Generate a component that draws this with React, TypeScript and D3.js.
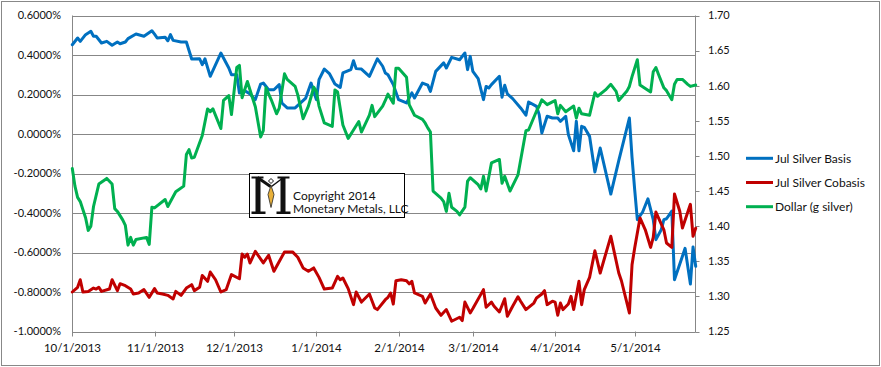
import React from 'react'
import * as d3 from 'd3'

// basis / cobasis (left axis, %) and dollar in grams of silver (right axis)
const leftTicks = [0.6, 0.4, 0.2, 0, -0.2, -0.4, -0.6, -0.8, -1.0]
const rightTicks = [1.7, 1.65, 1.6, 1.55, 1.5, 1.45, 1.4, 1.35, 1.3, 1.25]
const monthTicks = ['2013-10-01', '2013-11-01', '2013-12-01', '2014-01-01', '2014-02-01', '2014-03-01', '2014-04-01', '2014-05-01']
const dateRange = ['2013-10-01', '2014-05-24']
const seriesNames = ['Jul Silver Basis', 'Jul Silver Cobasis', 'Dollar (g silver)']
const seriesColors = ['#0070C0', '#C00000', '#00B050']

const basis: [string, number][] = [
  ['2013-10-01', 0.452], ['2013-10-03', 0.486], ['2013-10-04', 0.469], ['2013-10-06', 0.503], ['2013-10-08', 0.52],
  ['2013-10-09', 0.495], ['2013-10-10', 0.495], ['2013-10-12', 0.461], ['2013-10-14', 0.469], ['2013-10-16', 0.449],
  ['2013-10-18', 0.466], ['2013-10-19', 0.457], ['2013-10-21', 0.466], ['2013-10-22', 0.483], ['2013-10-25', 0.506],
  ['2013-10-28', 0.495], ['2013-10-31', 0.523], ['2013-11-01', 0.506], ['2013-11-02', 0.486], ['2013-11-05', 0.49],
  ['2013-11-06', 0.472], ['2013-11-07', 0.503], ['2013-11-08', 0.474], ['2013-11-11', 0.466], ['2013-11-13', 0.466],
  ['2013-11-15', 0.38], ['2013-11-18', 0.381], ['2013-11-19', 0.351], ['2013-11-20', 0.381], ['2013-11-22', 0.292],
  ['2013-11-26', 0.41], ['2013-11-27', 0.385], ['2013-11-29', 0.334], ['2013-11-30', 0.3], ['2013-12-02', 0.3],
  ['2013-12-03', 0.208], ['2013-12-05', 0.219], ['2013-12-07', 0.203], ['2013-12-09', 0.174], ['2013-12-11', 0.253],
  ['2013-12-12', 0.258], ['2013-12-14', 0.224], ['2013-12-16', 0.224], ['2013-12-18', 0.25], ['2013-12-19', 0.157],
  ['2013-12-21', 0.132], ['2013-12-24', 0.132], ['2013-12-28', 0.182], ['2013-12-30', 0.258], ['2014-01-01', 0.174],
  ['2014-01-02', 0.275], ['2014-01-04', 0.329], ['2014-01-06', 0.304], ['2014-01-08', 0.253], ['2014-01-10', 0.236],
  ['2014-01-11', 0.309], ['2014-01-14', 0.326], ['2014-01-15', 0.371], ['2014-01-16', 0.331], ['2014-01-18', 0.329],
  ['2014-01-21', 0.292], ['2014-01-24', 0.381], ['2014-01-26', 0.343], ['2014-01-27', 0.309], ['2014-01-28', 0.3],
  ['2014-01-30', 0.25], ['2014-02-01', 0.174], ['2014-02-04', 0.157], ['2014-02-06', 0.208], ['2014-02-07', 0.182],
  ['2014-02-10', 0.258], ['2014-02-12', 0.247], ['2014-02-13', 0.216], ['2014-02-15', 0.317], ['2014-02-18', 0.36],
  ['2014-02-19', 0.334], ['2014-02-21', 0.388], ['2014-02-24', 0.376], ['2014-02-26', 0.41], ['2014-02-27', 0.326],
  ['2014-02-28', 0.393], ['2014-03-01', 0.317], ['2014-03-03', 0.28], ['2014-03-05', 0.174], ['2014-03-06', 0.241],
  ['2014-03-07', 0.233], ['2014-03-08', 0.25], ['2014-03-11', 0.292], ['2014-03-12', 0.186], ['2014-03-13', 0.247],
  ['2014-03-14', 0.203], ['2014-03-16', 0.179], ['2014-03-19', 0.132], ['2014-03-21', 0.095], ['2014-03-22', 0.162],
  ['2014-03-25', 0.14], ['2014-03-26', 0.098], ['2014-03-27', 0.005], ['2014-03-29', 0.09], ['2014-03-31', 0.081],
  ['2014-04-02', 0.081], ['2014-04-03', 0.064], ['2014-04-05', 0.09], ['2014-04-06', -0.003], ['2014-04-08', -0.085],
  ['2014-04-09', 0.064], ['2014-04-10', -0.085], ['2014-04-11', 0.039], ['2014-04-12', 0.034], ['2014-04-14', -0.012],
  ['2014-04-16', -0.192], ['2014-04-18', -0.071], ['2014-04-22', -0.304], ['2014-04-25', -0.135], ['2014-04-29', 0.081],
  ['2014-04-30', -0.118], ['2014-05-01', -0.282], ['2014-05-02', -0.434], ['2014-05-04', -0.395], ['2014-05-06', -0.328],
  ['2014-05-08', -0.434], ['2014-05-09', -0.535], ['2014-05-11', -0.485], ['2014-05-12', -0.434], ['2014-05-13', -0.429],
  ['2014-05-15', -0.39], ['2014-05-16', -0.738], ['2014-05-20', -0.579], ['2014-05-22', -0.76], ['2014-05-23', -0.572],
  ['2014-05-24', -0.67],
]

const cobasis: [string, number][] = [
  ['2013-10-01', -0.8], ['2013-10-03', -0.776], ['2013-10-04', -0.738], ['2013-10-05', -0.8], ['2013-10-07', -0.797],
  ['2013-10-09', -0.78], ['2013-10-10', -0.785], ['2013-10-11', -0.776], ['2013-10-12', -0.797], ['2013-10-15', -0.785],
  ['2013-10-16', -0.738], ['2013-10-18', -0.793], ['2013-10-19', -0.758], ['2013-10-21', -0.768], ['2013-10-23', -0.785],
  ['2013-10-24', -0.81], ['2013-10-26', -0.805], ['2013-10-28', -0.788], ['2013-10-30', -0.827], ['2013-11-01', -0.783],
  ['2013-11-02', -0.805], ['2013-11-04', -0.81], ['2013-11-06', -0.817], ['2013-11-08', -0.835], ['2013-11-09', -0.797],
  ['2013-11-11', -0.817], ['2013-11-13', -0.78], ['2013-11-15', -0.763], ['2013-11-16', -0.793], ['2013-11-18', -0.776],
  ['2013-11-19', -0.716], ['2013-11-21', -0.746], ['2013-11-22', -0.699], ['2013-11-24', -0.738], ['2013-11-26', -0.8],
  ['2013-11-28', -0.788], ['2013-11-30', -0.712], ['2013-12-03', -0.733], ['2013-12-04', -0.608], ['2013-12-05', -0.624],
  ['2013-12-06', -0.608], ['2013-12-07', -0.653], ['2013-12-09', -0.594], ['2013-12-12', -0.653], ['2013-12-14', -0.614],
  ['2013-12-16', -0.695], ['2013-12-20', -0.597], ['2013-12-23', -0.597], ['2013-12-25', -0.624], ['2013-12-27', -0.678],
  ['2013-12-29', -0.695], ['2013-12-31', -0.678], ['2014-01-02', -0.726], ['2014-01-04', -0.785], ['2014-01-07', -0.78],
  ['2014-01-09', -0.721], ['2014-01-10', -0.738], ['2014-01-11', -0.729], ['2014-01-13', -0.783], ['2014-01-15', -0.864],
  ['2014-01-16', -0.8], ['2014-01-18', -0.851], ['2014-01-21', -0.81], ['2014-01-23', -0.881], ['2014-01-24', -0.889],
  ['2014-01-27', -0.839], ['2014-01-28', -0.827], ['2014-01-29', -0.805], ['2014-01-30', -0.861], ['2014-01-31', -0.743],
  ['2014-02-02', -0.738], ['2014-02-04', -0.743], ['2014-02-05', -0.759], ['2014-02-06', -0.746], ['2014-02-07', -0.805],
  ['2014-02-10', -0.822], ['2014-02-11', -0.856], ['2014-02-13', -0.81], ['2014-02-15', -0.881], ['2014-02-17', -0.918],
  ['2014-02-19', -0.889], ['2014-02-21', -0.948], ['2014-02-24', -0.928], ['2014-02-25', -0.945], ['2014-02-26', -0.851],
  ['2014-02-28', -0.906], ['2014-03-01', -0.884], ['2014-03-05', -0.788], ['2014-03-06', -0.877], ['2014-03-08', -0.851],
  ['2014-03-09', -0.872], ['2014-03-11', -0.901], ['2014-03-13', -0.834], ['2014-03-14', -0.923], ['2014-03-16', -0.872],
  ['2014-03-18', -0.824], ['2014-03-19', -0.847], ['2014-03-21', -0.889], ['2014-03-24', -0.856], ['2014-03-25', -0.83],
  ['2014-03-27', -0.81], ['2014-03-28', -0.793], ['2014-03-29', -0.864], ['2014-03-31', -0.847], ['2014-04-01', -0.851],
  ['2014-04-02', -0.918], ['2014-04-03', -0.856], ['2014-04-04', -0.889], ['2014-04-06', -0.861], ['2014-04-07', -0.822],
  ['2014-04-08', -0.889], ['2014-04-10', -0.746], ['2014-04-11', -0.864], ['2014-04-12', -0.788], ['2014-04-14', -0.726],
  ['2014-04-16', -0.591], ['2014-04-18', -0.704], ['2014-04-22', -0.518], ['2014-04-25', -0.704], ['2014-04-26', -0.743],
  ['2014-04-29', -0.906], ['2014-04-30', -0.662], ['2014-05-01', -0.577], ['2014-05-03', -0.425], ['2014-05-05', -0.485],
  ['2014-05-07', -0.574], ['2014-05-08', -0.523], ['2014-05-09', -0.395], ['2014-05-12', -0.485], ['2014-05-13', -0.552],
  ['2014-05-15', -0.574], ['2014-05-16', -0.304], ['2014-05-18', -0.391], ['2014-05-19', -0.476], ['2014-05-22', -0.356],
  ['2014-05-23', -0.518], ['2014-05-24', -0.477],
]

const dollar: [string, number][] = [
  ['2013-10-01', 1.482], ['2013-10-02', 1.457], ['2013-10-03', 1.441], ['2013-10-04', 1.435], ['2013-10-06', 1.412],
  ['2013-10-07', 1.394], ['2013-10-08', 1.4], ['2013-10-09', 1.428], ['2013-10-11', 1.46], ['2013-10-14', 1.468],
  ['2013-10-16', 1.46], ['2013-10-17', 1.425], ['2013-10-18', 1.421], ['2013-10-20', 1.409], ['2013-10-21', 1.401],
  ['2013-10-22', 1.373], ['2013-10-23', 1.384], ['2013-10-24', 1.373], ['2013-10-25', 1.381], ['2013-10-29', 1.384],
  ['2013-10-30', 1.374], ['2013-10-31', 1.427], ['2013-11-01', 1.426], ['2013-11-05', 1.438], ['2013-11-06', 1.428],
  ['2013-11-09', 1.449], ['2013-11-12', 1.457], ['2013-11-13', 1.502], ['2013-11-14', 1.509], ['2013-11-15', 1.497],
  ['2013-11-16', 1.498], ['2013-11-19', 1.529], ['2013-11-21', 1.567], ['2013-11-22', 1.563], ['2013-11-23', 1.567],
  ['2013-11-26', 1.539], ['2013-11-27', 1.579], ['2013-11-29', 1.586], ['2013-11-30', 1.559], ['2013-12-02', 1.626],
  ['2013-12-03', 1.629], ['2013-12-04', 1.583], ['2013-12-06', 1.606], ['2013-12-07', 1.594], ['2013-12-09', 1.57],
  ['2013-12-11', 1.527], ['2013-12-12', 1.536], ['2013-12-13', 1.597], ['2013-12-15', 1.58], ['2013-12-17', 1.56],
  ['2013-12-18', 1.568], ['2013-12-20', 1.617], ['2013-12-21', 1.609], ['2013-12-24', 1.599], ['2013-12-25', 1.587],
  ['2013-12-27', 1.553], ['2013-12-29', 1.571], ['2013-12-30', 1.584], ['2013-12-31', 1.598], ['2014-01-01', 1.592],
  ['2014-01-02', 1.571], ['2014-01-04', 1.547], ['2014-01-07', 1.542], ['2014-01-08', 1.594], ['2014-01-09', 1.591],
  ['2014-01-11', 1.544], ['2014-01-13', 1.525], ['2014-01-15', 1.537], ['2014-01-17', 1.549], ['2014-01-18', 1.534],
  ['2014-01-21', 1.558], ['2014-01-22', 1.572], ['2014-01-23', 1.556], ['2014-01-26', 1.571], ['2014-01-27', 1.579],
  ['2014-01-28', 1.588], ['2014-01-30', 1.575], ['2014-01-31', 1.625], ['2014-02-01', 1.625], ['2014-02-04', 1.612],
  ['2014-02-05', 1.573], ['2014-02-07', 1.558], ['2014-02-10', 1.552], ['2014-02-11', 1.547], ['2014-02-12', 1.54],
  ['2014-02-13', 1.534], ['2014-02-14', 1.45], ['2014-02-17', 1.44], ['2014-02-18', 1.435], ['2014-02-19', 1.421],
  ['2014-02-20', 1.447], ['2014-02-21', 1.427], ['2014-02-23', 1.421], ['2014-02-24', 1.416], ['2014-02-26', 1.427],
  ['2014-02-27', 1.464], ['2014-02-28', 1.469], ['2014-03-03', 1.459], ['2014-03-04', 1.453], ['2014-03-05', 1.471],
  ['2014-03-06', 1.45], ['2014-03-08', 1.49], ['2014-03-11', 1.495], ['2014-03-12', 1.461], ['2014-03-13', 1.471],
  ['2014-03-15', 1.45], ['2014-03-18', 1.473], ['2014-03-21', 1.536], ['2014-03-22', 1.537], ['2014-03-25', 1.564],
  ['2014-03-26', 1.571], ['2014-03-27', 1.58], ['2014-03-29', 1.573], ['2014-03-31', 1.577], ['2014-04-01', 1.579],
  ['2014-04-02', 1.56], ['2014-04-03', 1.572], ['2014-04-05', 1.563], ['2014-04-08', 1.571], ['2014-04-09', 1.554],
  ['2014-04-10', 1.568], ['2014-04-11', 1.56], ['2014-04-14', 1.558], ['2014-04-16', 1.59], ['2014-04-17', 1.585],
  ['2014-04-20', 1.594], ['2014-04-22', 1.602], ['2014-04-24', 1.592], ['2014-04-25', 1.579], ['2014-04-28', 1.592],
  ['2014-04-29', 1.599], ['2014-04-30', 1.613], ['2014-05-02', 1.637], ['2014-05-03', 1.601], ['2014-05-07', 1.591],
  ['2014-05-08', 1.62], ['2014-05-09', 1.626], ['2014-05-10', 1.616], ['2014-05-12', 1.597], ['2014-05-13', 1.593],
  ['2014-05-15', 1.58], ['2014-05-16', 1.602], ['2014-05-17', 1.609], ['2014-05-19', 1.609], ['2014-05-21', 1.602],
  ['2014-05-22', 1.599], ['2014-05-24', 1.601],
]

const W = 881
const H = 367
const plot = {left: 72.3, right: 695.7, top: 15.5, bottom: 331.5}
const font = 'Lato, "Open Sans", sans-serif'
const gridColor = '#878787'

const parse = d3.timeParse('%Y-%m-%d')

const App = () => {
  const x = d3.scaleTime()
    .domain(dateRange.map(d => parse(d) as Date))
    .range([plot.left, plot.right])
  const yLeft = d3.scaleLinear().domain([-1.0, 0.6]).range([plot.bottom, plot.top])
  const yRight = d3.scaleLinear().domain([1.25, 1.7]).range([plot.bottom, plot.top])
  const fmtDate = d3.timeFormat('%-m/%-d/%Y')

  const lineLeft = d3.line<[string, number]>()
    .x(d => x(parse(d[0]) as Date))
    .y(d => yLeft(d[1]))
  const lineRight = d3.line<[string, number]>()
    .x(d => x(parse(d[0]) as Date))
    .y(d => yRight(d[1]))

  const paths = [lineLeft(basis), lineLeft(cobasis), lineRight(dollar)]
  const legendY = [158.3, 182.5, 206.7]

  return (
    <svg width={W} height={H} style={{position: 'absolute', left: 0, top: 0, background: '#fff'}}
      fontFamily={font} fontSize={11}>
      <rect x={1.5} y={1.5} width={W - 3} height={H - 3} fill="#fff" stroke="#888" />

      {/* gridlines */}
      {leftTicks.map(t => (
        <line key={t} x1={plot.left} x2={plot.right} y1={Math.round(yLeft(t)) + 0.5} y2={Math.round(yLeft(t)) + 0.5}
          stroke={gridColor} />
      ))}
      {/* left axis */}
      <line x1={72.5} x2={72.5} y1={plot.top} y2={plot.bottom + 0.5} stroke={gridColor} />
      {leftTicks.map(t => (
        <text key={t} x={61} y={yLeft(t)} dy="0.35em" textAnchor="end" fill="#111">
          {t.toFixed(4) + '%'}
        </text>
      ))}
      {/* right axis */}
      <line x1={695.5} x2={695.5} y1={plot.top} y2={plot.bottom + 0.5} stroke={gridColor} />
      {rightTicks.map(t => (
        <g key={t}>
          <line x1={695.5} x2={699.5} y1={Math.round(yRight(t)) + 0.5} y2={Math.round(yRight(t)) + 0.5} stroke={gridColor} />
          <text x={708} y={yRight(t)} dy="0.35em" fill="#111">{t.toFixed(2)}</text>
        </g>
      ))}
      {/* x axis */}
      {monthTicks.map(m => {
        const px = Math.round(x(parse(m) as Date)) + 0.5
        return (
          <g key={m}>
            <line x1={px} x2={px} y1={plot.bottom} y2={plot.bottom + 5} stroke={gridColor} />
            <text x={px} y={352} textAnchor="middle" fontSize={11.5} fill="#111">{fmtDate(parse(m) as Date)}</text>
          </g>
        )
      })}

      {/* series */}
      {paths.map((p, i) => (
        <path key={i} d={p ?? ''} fill="none" stroke={seriesColors[i]} strokeWidth={3}
          strokeLinejoin="round" strokeLinecap="round" />
      ))}

      {/* legend */}
      {seriesNames.map((n, i) => (
        <g key={n}>
          <line x1={746} x2={773} y1={legendY[i]} y2={legendY[i]} stroke={seriesColors[i]} strokeWidth={3} />
          <text x={775} y={legendY[i]} dy="0.35em" fontSize={12} fill="#111">{n}</text>
        </g>
      ))}

      {/* copyright box with logo */}
      <g transform="translate(249.5,173.5)">
        <rect x={0} y={0} width={155} height={44} fill="#fff" stroke="#000" />
        <g fill="#111">
          <rect x={2} y={3} width={12} height={2} />
          <rect x={6} y={4} width={5} height={35} />
          <rect x={2} y={38} width={14} height={2.5} />
          <rect x={28} y={3} width={12} height={2} />
          <rect x={31} y={4} width={5} height={35} />
          <rect x={27} y={38} width={14} height={2.5} />
        </g>
        <path d="M8,4 L21,13" stroke="#111" strokeWidth={3} />
        <path d="M34,4 L22,13" stroke="#111" strokeWidth={1.5} />
        <path d="M21.5,5 L24,7.5 L21.5,10 L19,7.5 Z" fill="#fff" stroke="#111" strokeWidth={1} />
        <path d="M21.5,12 L24.5,21 L21.5,34 L18.5,21 Z" fill="#E9B13A" stroke="#222" strokeWidth={0.8} />
        <text x={43.5} y={26} fontSize={12} fill="#111">Copyright 2014</text>
        <text x={43.5} y={39.5} fontSize={12} fill="#111">Monetary Metals, LLC</text>
      </g>
    </svg>
  )
}

export default App
